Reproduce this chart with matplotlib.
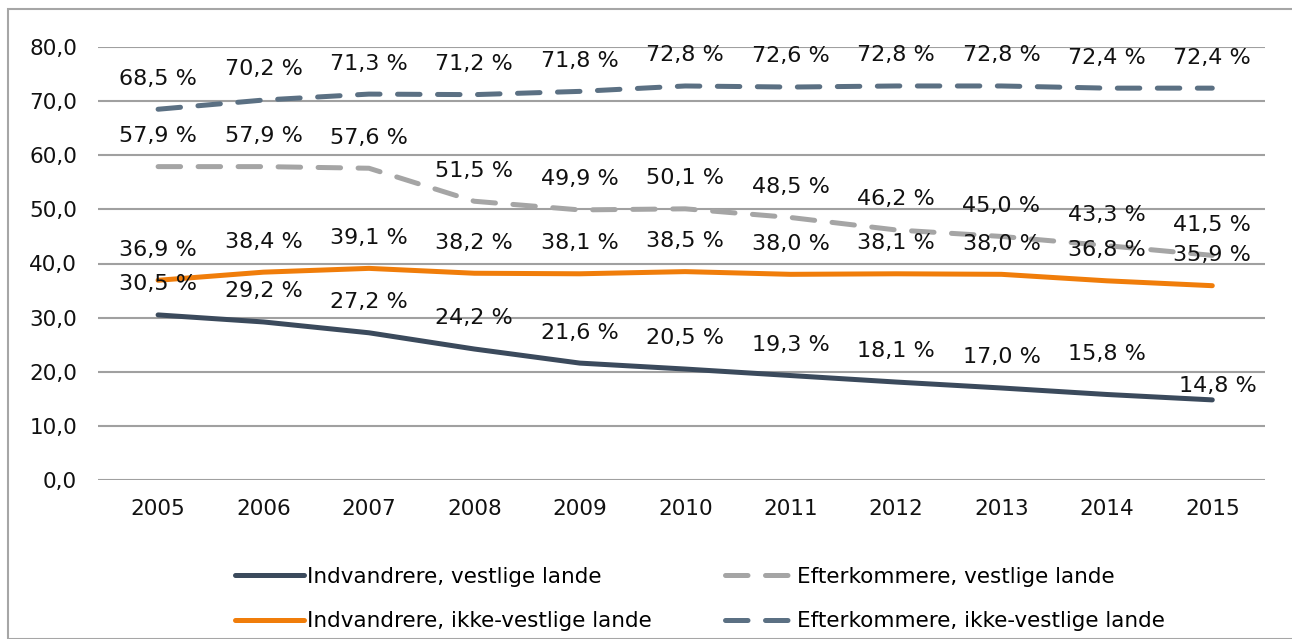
import matplotlib
matplotlib.use('Agg')
import matplotlib.pyplot as plt
from matplotlib.patches import Rectangle

years = ['2005', '2006', '2007', '2008', '2009', '2010', '2011', '2012', '2013', '2014', '2015']
indv_vestlige = [30.5, 29.2, 27.2, 24.2, 21.6, 20.5, 19.3, 18.1, 17.0, 15.8, 14.8]
indv_ikke_vestlige = [36.9, 38.4, 39.1, 38.2, 38.1, 38.5, 38.0, 38.1, 38.0, 36.8, 35.9]
eft_vestlige = [57.9, 57.9, 57.6, 51.5, 49.9, 50.1, 48.5, 46.2, 45.0, 43.3, 41.5]
eft_ikke_vestlige = [68.5, 70.2, 71.3, 71.2, 71.8, 72.8, 72.6, 72.8, 72.8, 72.4, 72.4]

series = [
    ('Indvandrere, vestlige lande', indv_vestlige, '#3B4A5C', '-'),
    ('Indvandrere, ikke-vestlige lande', indv_ikke_vestlige, '#F07D0A', '-'),
    ('Efterkommere, vestlige lande', eft_vestlige, '#A5A5A5', '--'),
    ('Efterkommere, ikke-vestlige lande', eft_ikke_vestlige, '#5B7083', '--'),
]

fig = plt.figure(figsize=(12.92, 6.39), dpi=100)
fig.patches.append(Rectangle((8 / 1292, 0), 1.2, 1 - 9 / 639, transform=fig.transFigure,
                             fill=False, edgecolor='#A6A6A6', linewidth=1.5))
ax = fig.add_axes([98 / 1292, 1 - 480 / 639, (1265 - 98) / 1292, (480 - 47) / 639])

x = list(range(len(years)))
handles = []
for name, vals, color, ls in series:
    if ls == '--':
        line, = ax.plot(x, vals, color=color, lw=3.6, dashes=(4.5, 3.5),
                        dash_capstyle='round', solid_capstyle='round', label=name)
    else:
        line, = ax.plot(x, vals, color=color, lw=3.6, solid_capstyle='round', label=name)
    handles.append(line)
    for i, v in enumerate(vals):
        dy = 22
        dx = 0
        if vals is indv_vestlige and i == 9:
            dy = 29
        if vals is indv_vestlige and i == 10:
            dy = 10
            dx = 4
        ax.annotate(f'{v:.1f} %'.replace('.', ','), (i, v), xytext=(dx, dy),
                    textcoords='offset points', ha='center', va='center',
                    fontsize=16, color='#111111')

ax.set_xlim(-0.57, 10.5)
ax.set_ylim(0, 80)
ax.set_yticks(range(0, 81, 10))
ax.set_yticklabels([f'{t:.1f}'.replace('.', ',') for t in range(0, 81, 10)])
ax.set_xticks(x)
ax.set_xticklabels(years)
ax.tick_params(length=0, labelsize=15.5, colors='#111111')
ax.tick_params(axis='y', pad=15)
ax.tick_params(axis='x', pad=14)
ax.grid(axis='y', color='#A0A0A0', linewidth=1.5)
ax.set_axisbelow(True)
for s in ax.spines.values():
    s.set_visible(False)

# legend fills column-wise: vestlige in row 1, ikke-vestlige in row 2
fig.legend(handles, [s[0] for s in series], loc='center', ncol=2,
           bbox_to_anchor=(0.542, 1 - 599 / 639), frameon=False, fontsize=15.5,
           handlelength=3.2, handletextpad=0.15, columnspacing=3.4, labelspacing=1.12)

fig.savefig('out.png', dpi=100)
